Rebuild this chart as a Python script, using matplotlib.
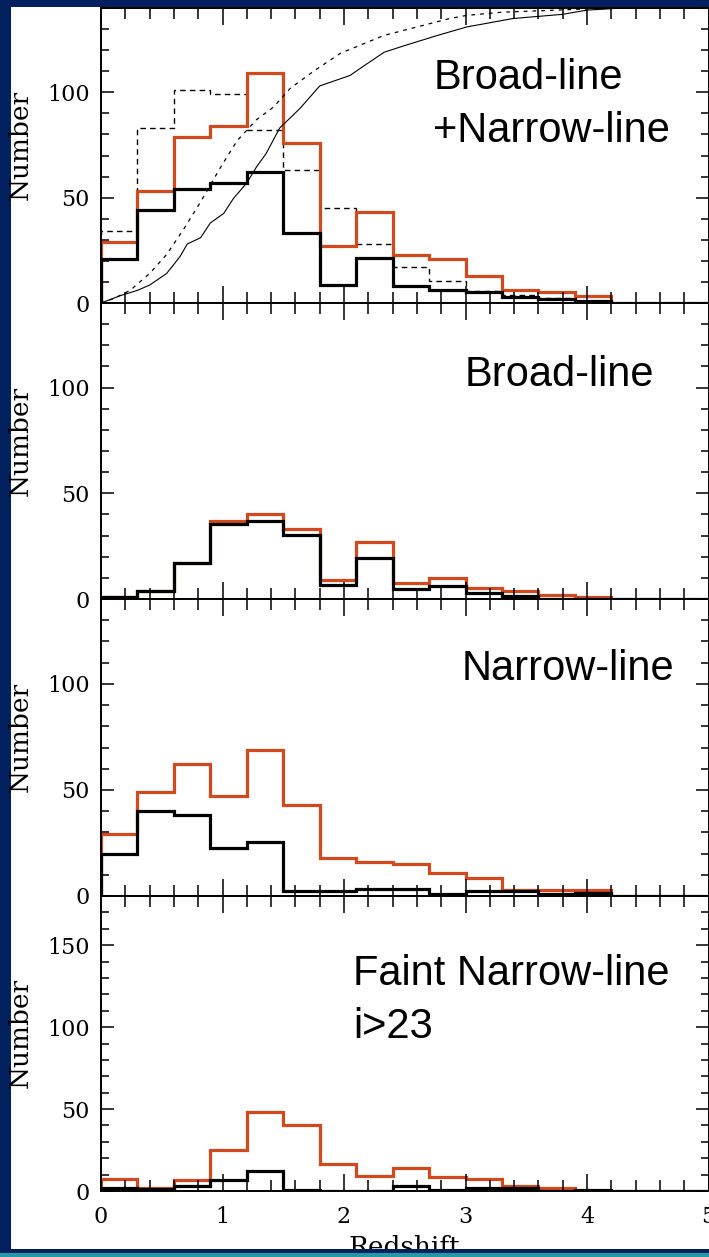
import matplotlib.pyplot as plt
from matplotlib.patches import Rectangle
from matplotlib.ticker import MultipleLocator

# bin edges (dz = 0.3)
edges_black = [0.0, 0.3, 0.6, 0.9, 1.2, 1.5, 1.8, 2.1, 2.4, 2.7, 3.0, 3.3, 3.6, 3.9,
               4.2, 4.5, 4.8, 5.1]
edges_red = edges_black[:15]
edges_red_faint = edges_black[:14]

# panel 1: broad-line + narrow-line
p1_red = [29, 53, 79, 84, 109, 76, 27, 43, 23, 21, 13, 6, 5, 3.5]
p1_black = [21, 44, 54, 57, 62, 33, 8.5, 21.5, 8, 6, 5, 3, 2, 1, 0, 0, 0]
p1_dashed = [34, 83, 101, 99, 82, 63, 45, 28, 17, 10.4, 5.8, 3.8, 2.2, 1]

# cumulative curves (scaled), panel 1
cum_solid_z = [0, 0.16, 0.30, 0.40, 0.54, 0.65, 0.71, 0.82, 0.90, 1.01, 1.09, 1.20,
               1.28, 1.36, 1.47, 1.56, 1.64, 1.80, 1.90, 2.05, 2.15, 2.33, 2.49,
               2.77, 3.01, 3.39, 3.80, 4.00, 4.30]
cum_solid_n = [0, 3.5, 6, 8.5, 14, 22, 28, 31, 38, 42.5, 49.6, 57,
               64.6, 71, 83, 88, 92.5, 103, 105, 108, 112, 119, 122,
               127, 131, 135, 137, 139, 140]
cum_dash_z = [0, 0.10, 0.24, 0.40, 0.54, 0.68, 0.82, 0.98, 1.12, 1.28, 1.42, 1.56,
              1.75, 1.97, 2.33, 2.60, 2.87, 3.01, 3.30, 3.97, 4.30]
cum_dash_n = [0, 2, 6, 14, 23, 35, 48, 64, 77, 87, 93, 102,
              110, 118.5, 127, 131, 135, 136.5, 138, 139.5, 140]

# panel 2: broad-line
p2_red = [1, 4, 17, 37, 40, 33, 9, 27, 7.5, 10, 5, 4, 2, 1]
p2_black = [1, 4, 17, 35.5, 37, 30.5, 6.7, 19.4, 4.6, 6.2, 2.7, 1.4, 0, 0, 0, 0, 0]

# panel 3: narrow-line
p3_red = [29, 49, 62, 47, 69, 43, 18, 16, 15, 11, 8.3, 3, 3, 3]
p3_black = [20, 40, 38, 22.5, 25.5, 2.5, 2.5, 3.3, 3.3, 1, 2.5, 2.5, 1, 1.5, 0, 0, 0]

# panel 4: faint narrow-line i>23
p4_red = [7.5, 2, 7, 25, 48, 40, 16.7, 9, 14, 8.3, 7.3, 3, 1.6]
p4_black = [2, 1, 3, 6.5, 12, 0.5, 0, 0, 3, 0.5, 2, 2, 0, 0.5, 0, 0, 0]

panel_labels = [["Broad-line", "+Narrow-line"], ["Broad-line"], ["Narrow-line"],
                ["Faint Narrow-line", "i>23"]]
ymax = [140, 140, 140, 180]

NAVY = "#02205e"
RED = "#d2491e"
SERIF = "DejaVu Serif"

W, H = 709, 1257
fig = plt.figure(figsize=(W / 100, H / 100), dpi=100, facecolor=NAVY)
fig.add_artist(Rectangle((11 / W, 8 / H), 1 - 11 / W, (1249 - 7) / H,
                         transform=fig.transFigure, facecolor="white",
                         edgecolor="none", zorder=-10))

# panel pixel extents (top, bottom) and label placements
panel_px = [(8, 303), (303, 599), (599, 896), (896, 1191)]
label_x = [2.735, 2.99, 2.965, 2.076]
label_y = [[101.6, 76.4], [100.6], [101.9], [125.4, 93.1]]

reds = [p1_red, p2_red, p3_red, p4_red]
blacks = [p1_black, p2_black, p3_black, p4_black]

for i in range(4):
    top, bot = panel_px[i]
    ax = fig.add_axes([101 / W, (H - bot) / H, 607.5 / W, (bot - top) / H])
    ax.set_facecolor("white")

    if i == 0:
        ax.plot(cum_solid_z, cum_solid_n, color="black", lw=0.8)
        ax.plot(cum_dash_z, cum_dash_n, color="black", lw=0.9,
                linestyle=(0, (3, 4)))
        ax.stairs(p1_dashed, edges_red, color="black", lw=1.0,
                  linestyle=(0, (4, 3)), baseline=0)

    e_red = edges_red_faint if i == 3 else edges_red
    ax.stairs(reds[i], e_red, color=RED, lw=2.3, baseline=0)
    ax.stairs(blacks[i], edges_black, color="black", lw=2.3, baseline=0)

    for line, yv in zip(panel_labels[i], label_y[i]):
        ax.text(label_x[i], yv, line, fontsize=30, family="Liberation Sans",
                va="baseline", ha="left")

    ax.set_xlim(0, 5)
    ax.set_ylim(0, ymax[i])
    ax.xaxis.set_major_locator(MultipleLocator(1))
    ax.xaxis.set_minor_locator(MultipleLocator(0.2))
    ax.yaxis.set_major_locator(MultipleLocator(50))
    ax.yaxis.set_minor_locator(MultipleLocator(10))
    ax.tick_params(axis="x", which="major", direction="in", length=12, width=1.1,
                   top=True, bottom=True, pad=11, labelsize=16)
    ax.tick_params(axis="x", which="minor", direction="in", length=8, width=1.1,
                   top=True, bottom=True)
    ax.tick_params(axis="y", which="major", direction="in", length=9.5, width=1.1,
                   left=True, right=True, pad=8, labelsize=16)
    ax.tick_params(axis="y", which="minor", direction="in", length=6, width=1.1,
                   left=True, right=True)
    for lab in ax.get_xticklabels() + ax.get_yticklabels():
        lab.set_family(SERIF)
    for sp in ax.spines.values():
        sp.set_linewidth(1.4)

    ax.set_ylabel("Number", family=SERIF, fontsize=19)
    ax.yaxis.set_label_coords(-0.112, 0.535)
    if i < 3:
        ax.tick_params(axis="x", labelbottom=False)
    else:
        ax.set_xlabel("Redshift", family=SERIF, fontsize=19, labelpad=4.5)

# frame strips over the bottom edge
fig.add_artist(Rectangle((0, 0), 1, 8 / H, transform=fig.transFigure,
                         facecolor=NAVY, edgecolor="none", zorder=20))
fig.add_artist(Rectangle((0, 0), 1, 4 / H, transform=fig.transFigure,
                         facecolor="#1f9aa6", edgecolor="none", zorder=21))

fig.savefig("out.png", dpi=100, facecolor=NAVY)
